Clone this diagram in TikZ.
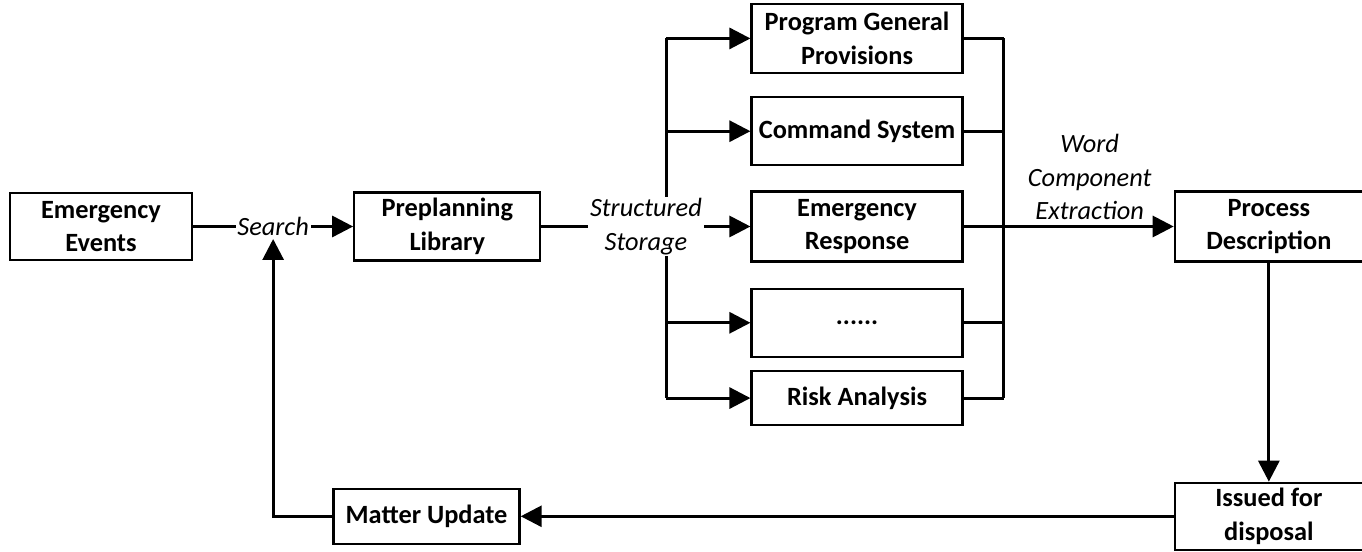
\documentclass[tikz,border=0pt]{standalone}
\usepackage{fontspec}
\setmainfont{Carlito}
\usetikzlibrary{positioning,arrows.meta}

\begin{document}
\begin{tikzpicture}[
    box/.style = {draw, line width=1.3pt, align=center, inner sep=2pt,
                  font=\fontsize{15}{19}\selectfont\bfseries},
    lbl/.style = {fill=white, inner sep=1pt, align=center,
                  font=\fontsize{15}{19}\selectfont\itshape},
    line/.style = {line width=1.7pt},
    arr/.style = {line, -{Triangle[length=0.42cm, width=0.42cm]}}
  ]
    \useasboundingbox (0,0) rectangle (27.24,-11.04);

    \node[box, minimum width=3.64cm, minimum height=1.34cm] (events) at (2.02,-4.53) {Emergency\\Events};
    \node[box, right = 3.2cm of events, minimum width=3.72cm, minimum height=1.36cm] (library) {Preplanning\\Library};

    \node[box, right = 4.18cm of library, minimum width=4.22cm, minimum height=1.4cm] (response) {Emergency\\Response};
    \node[box, above = 0.48cm of response, minimum width=4.22cm, minimum height=1.36cm] (command) {Command System};
    \node[box, above = 0.44cm of command, minimum width=4.22cm, minimum height=1.38cm] (provisions) {Program General\\Provisions};
    \node[box, below = 0.5cm of response, minimum width=4.22cm, minimum height=1.36cm] (dots) {......};
    \node[box, below = 0.24cm of dots, minimum width=4.22cm, minimum height=1.08cm] (risk) {Risk Analysis};

    \node[box, right = 4.2cm of response, minimum width=3.76cm, minimum height=1.4cm] (process) {Process\\Description};
    \node[box, below = 4.38cm of process, minimum width=3.76cm, minimum height=1.34cm] (issued) {Issued for\\disposal};
    \node[box, left = 13.06cm of issued, minimum width=3.72cm, minimum height=1.1cm] (update) {Matter Update};

    \coordinate[right = 2.5cm of library.east] (split);
    \coordinate[right = 0.8cm of response.east] (merge);

    % distribution bus
    \draw[line] (split |- provisions) -- (split |- risk);
    \foreach \n in {provisions, command, dots, risk}
      \draw[arr] (split |- \n) -- (\n.west);

    % collecting bus
    \draw[line] (merge |- provisions) -- (merge |- risk);
    \foreach \n in {provisions, command, dots, risk}
      \draw[line] (\n.east) -- (merge |- \n);

    \draw[arr] (events) -- node[lbl] (search) {Search} (library);
    \draw[arr] (library) -- node[lbl] (storage) {Structured\\Storage} (response);
    \draw[arr] (response) -- node[lbl, pos=0.6, above, fill=none, inner sep=3pt] (extract) {Word\\Component\\Extraction} (process);

    \draw[arr] (process) -- (issued);
    \draw[arr] (issued) -- (update);
    \draw[arr] (update.west) -| (search.south);
\end{tikzpicture}
\end{document}
